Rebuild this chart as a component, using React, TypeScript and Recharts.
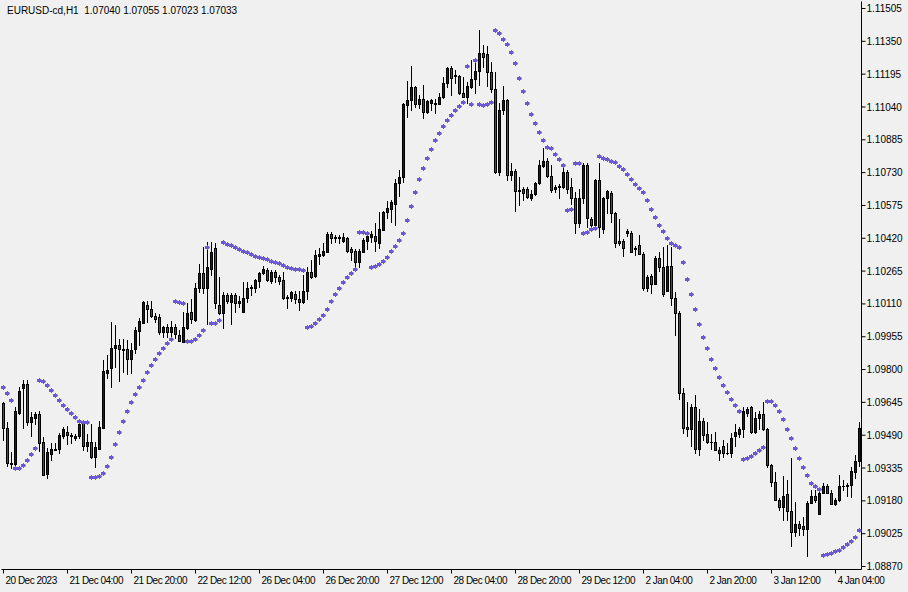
import React from 'react';
import { ComposedChart, Bar, Line, XAxis, YAxis } from 'recharts';

// EURUSD-cd H1 candles
const opens = [
  1.09640, 1.09522, 1.09352, 1.09356, 1.09597, 1.09711, 1.09734, 1.09550, 1.09569, 1.09592,
  1.09456, 1.09309, 1.09399, 1.09422, 1.09427, 1.09484, 1.09507, 1.09489, 1.09479, 1.09484,
  1.09541, 1.09437, 1.09460, 1.09385, 1.09427, 1.09526, 1.09786, 1.09805, 1.09904, 1.09918,
  1.09895, 1.09895, 1.09852, 1.09895, 1.09984, 1.10022, 1.10107, 1.10084, 1.10055, 1.10046,
  1.09975, 1.09999, 1.09975, 1.09999, 1.09961, 1.09932, 1.09994, 1.10074, 1.10032, 1.10187,
  1.10258, 1.10187, 1.10277, 1.10376, 1.10107, 1.10065, 1.10154, 1.10121, 1.10154, 1.10112,
  1.10074, 1.10136, 1.10187, 1.10183, 1.10216, 1.10254, 1.10272, 1.10216, 1.10263, 1.10235,
  1.10225, 1.10145, 1.10136, 1.10159, 1.10131, 1.10121, 1.10169, 1.10263, 1.10244, 1.10334,
  1.10343, 1.10357, 1.10442, 1.10419, 1.10424, 1.10409, 1.10419, 1.10367, 1.10362, 1.10310,
  1.10357, 1.10409, 1.10428, 1.10433, 1.10400, 1.10461, 1.10542, 1.10556, 1.10584, 1.10683,
  1.10707, 1.11047, 1.11075, 1.11132, 1.11056, 1.11080, 1.11014, 1.11061, 1.11056, 1.11056,
  1.11085, 1.11151, 1.11222, 1.11184, 1.11184, 1.11104, 1.11089, 1.11132, 1.11170, 1.11212,
  1.11297, 1.11288, 1.11203, 1.11127, 1.10731, 1.11028, 1.11071, 1.10721, 1.10740, 1.10641,
  1.10655, 1.10655, 1.10608, 1.10631, 1.10679, 1.10759, 1.10787, 1.10716, 1.10655, 1.10664,
  1.10660, 1.10735, 1.10660, 1.10608, 1.10490, 1.10608, 1.10764, 1.10513, 1.10485, 1.10697,
  1.10466, 1.10608, 1.10636, 1.10537, 1.10405, 1.10409, 1.10447, 1.10447, 1.10367, 1.10386,
  1.10348, 1.10187, 1.10244, 1.10206, 1.10329, 1.10282, 1.10173, 1.10287, 1.10140, 1.10069,
  1.09687, 1.09531, 1.09517, 1.09621, 1.09427, 1.09559, 1.09498, 1.09460, 1.09460, 1.09422,
  1.09441, 1.09408, 1.09404, 1.09484, 1.09498, 1.09517, 1.09597, 1.09621, 1.09503, 1.09569,
  1.09592, 1.09517, 1.09347, 1.09271, 1.09186, 1.09153, 1.09210, 1.09130, 1.09031, 1.09073,
  1.09059, 1.09049, 1.09172, 1.09201, 1.09120, 1.09219, 1.09252, 1.09215, 1.09167, 1.09182,
  1.09248, 1.09252, 1.09257, 1.09314, 1.09366,
];

const highs = [
  1.09644, 1.09550, 1.09408, 1.09621, 1.09715, 1.09748, 1.09748, 1.09597, 1.09597, 1.09602,
  1.09479, 1.09427, 1.09451, 1.09451, 1.09498, 1.09526, 1.09531, 1.09498, 1.09493, 1.09545,
  1.09550, 1.09493, 1.09541, 1.09456, 1.09555, 1.09843, 1.09866, 1.10022, 1.10008, 1.09942,
  1.09942, 1.09937, 1.09923, 1.09999, 1.10041, 1.10121, 1.10121, 1.10121, 1.10065, 1.10060,
  1.10003, 1.10013, 1.10027, 1.10013, 1.09984, 1.10069, 1.10112, 1.10131, 1.10206, 1.10296,
  1.10376, 1.10400, 1.10400, 1.10395, 1.10235, 1.10164, 1.10159, 1.10159, 1.10159, 1.10145,
  1.10211, 1.10211, 1.10197, 1.10225, 1.10258, 1.10287, 1.10277, 1.10268, 1.10268, 1.10244,
  1.10258, 1.10150, 1.10169, 1.10169, 1.10169, 1.10244, 1.10282, 1.10315, 1.10362, 1.10372,
  1.10395, 1.10447, 1.10447, 1.10433, 1.10433, 1.10442, 1.10424, 1.10376, 1.10367, 1.10367,
  1.10419, 1.10447, 1.10452, 1.10490, 1.10542, 1.10546, 1.10594, 1.10598, 1.10697, 1.10740,
  1.11056, 1.11160, 1.11231, 1.11137, 1.11094, 1.11141, 1.11071, 1.11075, 1.11075, 1.11104,
  1.11179, 1.11226, 1.11231, 1.11212, 1.11189, 1.11179, 1.11156, 1.11259, 1.11264, 1.11401,
  1.11330, 1.11326, 1.11250, 1.11203, 1.11056, 1.11137, 1.11075, 1.10773, 1.10745, 1.10707,
  1.10660, 1.10660, 1.10646, 1.10683, 1.10787, 1.10844, 1.10797, 1.10764, 1.10669, 1.10674,
  1.10754, 1.10740, 1.10702, 1.10636, 1.10650, 1.10773, 1.10773, 1.10518, 1.10697, 1.10773,
  1.10612, 1.10646, 1.10641, 1.10542, 1.10509, 1.10414, 1.10461, 1.10452, 1.10381, 1.10433,
  1.10353, 1.10244, 1.10249, 1.10334, 1.10353, 1.10376, 1.10386, 1.10376, 1.10164, 1.10074,
  1.09711, 1.09644, 1.09635, 1.09677, 1.09611, 1.09569, 1.09550, 1.09493, 1.09503, 1.09432,
  1.09465, 1.09451, 1.09498, 1.09541, 1.09526, 1.09621, 1.09621, 1.09626, 1.09597, 1.09602,
  1.09644, 1.09522, 1.09352, 1.09314, 1.09191, 1.09295, 1.09276, 1.09380, 1.09172, 1.09082,
  1.09101, 1.09177, 1.09229, 1.09229, 1.09224, 1.09262, 1.09257, 1.09229, 1.09191, 1.09300,
  1.09276, 1.09262, 1.09337, 1.09394, 1.09550,
];

const lows = [
  1.09465, 1.09342, 1.09333, 1.09347, 1.09588, 1.09522, 1.09536, 1.09484, 1.09541, 1.09413,
  1.09300, 1.09286, 1.09371, 1.09418, 1.09404, 1.09474, 1.09446, 1.09451, 1.09465, 1.09474,
  1.09418, 1.09413, 1.09380, 1.09337, 1.09422, 1.09522, 1.09758, 1.09715, 1.09810, 1.09744,
  1.09786, 1.09777, 1.09781, 1.09876, 1.09914, 1.10017, 1.10022, 1.10046, 1.10022, 1.09966,
  1.09951, 1.09951, 1.09951, 1.09947, 1.09932, 1.09928, 1.09989, 1.10017, 1.10027, 1.10164,
  1.10159, 1.10013, 1.10244, 1.10088, 1.10060, 1.09994, 1.10112, 1.10013, 1.10069, 1.10093,
  1.10069, 1.10117, 1.10150, 1.10164, 1.10187, 1.10249, 1.10216, 1.10206, 1.10211, 1.10202,
  1.10131, 1.10088, 1.10121, 1.10112, 1.10079, 1.10112, 1.10131, 1.10230, 1.10235, 1.10296,
  1.10334, 1.10353, 1.10395, 1.10400, 1.10395, 1.10400, 1.10353, 1.10315, 1.10282, 1.10282,
  1.10353, 1.10367, 1.10400, 1.10357, 1.10372, 1.10457, 1.10513, 1.10494, 1.10480, 1.10617,
  1.10683, 1.10990, 1.11023, 1.11037, 1.11033, 1.10986, 1.11009, 1.11023, 1.11009, 1.11052,
  1.11080, 1.11132, 1.11094, 1.11151, 1.11099, 1.11085, 1.11056, 1.11127, 1.11104, 1.11141,
  1.11226, 1.11137, 1.11108, 1.10726, 1.10716, 1.11004, 1.10693, 1.10693, 1.10546, 1.10575,
  1.10598, 1.10608, 1.10598, 1.10622, 1.10674, 1.10754, 1.10707, 1.10636, 1.10636, 1.10608,
  1.10655, 1.10631, 1.10579, 1.10442, 1.10471, 1.10584, 1.10471, 1.10471, 1.10457, 1.10424,
  1.10442, 1.10537, 1.10494, 1.10376, 1.10386, 1.10334, 1.10428, 1.10353, 1.10339, 1.10343,
  1.10173, 1.10169, 1.10159, 1.10202, 1.10263, 1.10145, 1.10169, 1.10102, 1.09961, 1.09659,
  1.09498, 1.09484, 1.09437, 1.09404, 1.09394, 1.09465, 1.09451, 1.09422, 1.09418, 1.09371,
  1.09385, 1.09399, 1.09385, 1.09437, 1.09479, 1.09479, 1.09578, 1.09498, 1.09498, 1.09517,
  1.09512, 1.09337, 1.09248, 1.09182, 1.09134, 1.09087, 1.09087, 1.08964, 1.09012, 1.09016,
  1.09016, 1.08917, 1.09167, 1.09172, 1.09116, 1.09215, 1.09215, 1.09163, 1.09158, 1.09177,
  1.09229, 1.09201, 1.09196, 1.09286, 1.09342,
];

const closes = [
  1.09522, 1.09361, 1.09361, 1.09602, 1.09701, 1.09734, 1.09550, 1.09574, 1.09592, 1.09451,
  1.09304, 1.09413, 1.09427, 1.09427, 1.09489, 1.09517, 1.09489, 1.09484, 1.09484, 1.09541,
  1.09437, 1.09460, 1.09385, 1.09432, 1.09531, 1.09791, 1.09800, 1.09904, 1.09914, 1.09895,
  1.09890, 1.09852, 1.09890, 1.09989, 1.10027, 1.10117, 1.10084, 1.10055, 1.10041, 1.09975,
  1.09999, 1.09975, 1.09999, 1.09966, 1.09937, 1.09999, 1.10069, 1.10041, 1.10187, 1.10254,
  1.10183, 1.10282, 1.10357, 1.10112, 1.10065, 1.10154, 1.10126, 1.10154, 1.10112, 1.10126,
  1.10136, 1.10187, 1.10192, 1.10221, 1.10254, 1.10277, 1.10221, 1.10263, 1.10235, 1.10216,
  1.10140, 1.10140, 1.10164, 1.10131, 1.10121, 1.10169, 1.10263, 1.10239, 1.10343, 1.10348,
  1.10362, 1.10442, 1.10419, 1.10424, 1.10419, 1.10424, 1.10362, 1.10353, 1.10306, 1.10362,
  1.10414, 1.10433, 1.10442, 1.10409, 1.10466, 1.10542, 1.10561, 1.10589, 1.10683, 1.10707,
  1.11052, 1.11075, 1.11132, 1.11056, 1.11080, 1.11014, 1.11066, 1.11071, 1.11061, 1.11085,
  1.11151, 1.11222, 1.11179, 1.11189, 1.11104, 1.11089, 1.11137, 1.11170, 1.11212, 1.11297,
  1.11278, 1.11203, 1.11127, 1.10731, 1.11028, 1.11071, 1.10721, 1.10740, 1.10641, 1.10646,
  1.10636, 1.10617, 1.10631, 1.10679, 1.10764, 1.10787, 1.10712, 1.10650, 1.10660, 1.10669,
  1.10735, 1.10655, 1.10608, 1.10490, 1.10608, 1.10768, 1.10518, 1.10485, 1.10693, 1.10471,
  1.10608, 1.10641, 1.10537, 1.10400, 1.10400, 1.10376, 1.10452, 1.10357, 1.10376, 1.10348,
  1.10183, 1.10239, 1.10206, 1.10329, 1.10282, 1.10159, 1.10287, 1.10140, 1.10065, 1.09687,
  1.09526, 1.09517, 1.09621, 1.09427, 1.09559, 1.09493, 1.09456, 1.09456, 1.09422, 1.09408,
  1.09408, 1.09404, 1.09479, 1.09507, 1.09517, 1.09602, 1.09616, 1.09503, 1.09569, 1.09592,
  1.09517, 1.09347, 1.09267, 1.09186, 1.09153, 1.09205, 1.09134, 1.09031, 1.09073, 1.09054,
  1.09049, 1.09172, 1.09205, 1.09182, 1.09219, 1.09248, 1.09219, 1.09167, 1.09186, 1.09252,
  1.09252, 1.09257, 1.09319, 1.09366, 1.09526,
];

// Parabolic SAR values
const sar = [
  1.09715, 1.09687, 1.09654, 1.09333, 1.09333, 1.09347, 1.09371, 1.09399, 1.09427, 1.09748,
  1.09744, 1.09725, 1.09701, 1.09677, 1.09654, 1.09630, 1.09611, 1.09592, 1.09574, 1.09555,
  1.09550, 1.09550, 1.09290, 1.09290, 1.09295, 1.09309, 1.09342, 1.09385, 1.09446, 1.09503,
  1.09555, 1.09602, 1.09644, 1.09682, 1.09715, 1.09748, 1.09786, 1.09819, 1.09847, 1.09876,
  1.09899, 1.09923, 1.09942, 1.10121, 1.10117, 1.10112, 1.09932, 1.09932, 1.09942, 1.09961,
  1.09984, 1.10376, 1.10017, 1.10017, 1.10032, 1.10400, 1.10391, 1.10386, 1.10376, 1.10367,
  1.10357, 1.10353, 1.10343, 1.10334, 1.10329, 1.10324, 1.10320, 1.10310, 1.10306, 1.10301,
  1.10291, 1.10282, 1.10277, 1.10272, 1.10272, 1.10268, 1.09999, 1.10003, 1.10017, 1.10036,
  1.10055, 1.10084, 1.10121, 1.10154, 1.10183, 1.10211, 1.10235, 1.10254, 1.10272, 1.10447,
  1.10447, 1.10442, 1.10282, 1.10287, 1.10296, 1.10310, 1.10329, 1.10357, 1.10381, 1.10409,
  1.10442, 1.10504, 1.10570, 1.10636, 1.10697, 1.10749, 1.10797, 1.10839, 1.10882, 1.10915,
  1.10948, 1.10976, 1.11000, 1.11023, 1.11042, 1.11061, 1.11231, 1.11052, 1.11259, 1.11052,
  1.11047, 1.11052, 1.11061, 1.11401, 1.11387, 1.11359, 1.11335, 1.11297, 1.11245, 1.11174,
  1.11113, 1.11056, 1.11004, 1.10962, 1.10919, 1.10882, 1.10849, 1.10844, 1.10816, 1.10792,
  1.10764, 1.10551, 1.10556, 1.10773, 1.10773, 1.10442, 1.10447, 1.10461, 1.10466, 1.10806,
  1.10797, 1.10792, 1.10782, 1.10778, 1.10759, 1.10745, 1.10721, 1.10697, 1.10674, 1.10655,
  1.10636, 1.10598, 1.10556, 1.10518, 1.10480, 1.10452, 1.10419, 1.10395, 1.10386, 1.10376,
  1.10306, 1.10225, 1.10154, 1.10084, 1.10013, 1.09951, 1.09899, 1.09847, 1.09805, 1.09762,
  1.09725, 1.09692, 1.09659, 1.09630, 1.09602, 1.09375, 1.09380, 1.09389, 1.09404, 1.09418,
  1.09432, 1.09649, 1.09649, 1.09630, 1.09602, 1.09564, 1.09517, 1.09474, 1.09427, 1.09380,
  1.09337, 1.09300, 1.09262, 1.09248, 1.09234, 1.08922, 1.08927, 1.08931, 1.08941, 1.08946,
  1.08960, 1.08974, 1.08988, 1.09007, 1.09040,
];

const xTickBars = [0, 16, 32, 48, 64, 80, 96, 112, 128, 144, 160, 176, 192, 208];
const xTickLabels = [
  '20 Dec 2023', '21 Dec 04:00', '21 Dec 20:00', '22 Dec 12:00', '26 Dec 04:00',
  '26 Dec 20:00', '27 Dec 12:00', '28 Dec 04:00', '28 Dec 20:00', '29 Dec 12:00',
  '2 Jan 04:00', '2 Jan 20:00', '3 Jan 12:00', '4 Jan 04:00',
];
const yTicks = [
  1.11505, 1.1135, 1.11195, 1.1104, 1.10885, 1.1073, 1.10575, 1.1042, 1.10265,
  1.1011, 1.09955, 1.098, 1.09645, 1.0949, 1.09335, 1.0918, 1.09025, 1.0887,
];
const Y_MIN = 1.0885583;
const Y_MAX = 1.1153806;

const title = 'EURUSD-cd,H1  1.07040 1.07055 1.07023 1.07033';

const data = opens.map((o, i) => ({
  i,
  open: o,
  high: highs[i],
  low: lows[i],
  close: closes[i],
  sar: sar[i],
}));

const FONT = '"Liberation Sans", Arial, sans-serif';
const UP = '#0000ff';
const DOWN = '#ff0000';
const SAR_COLOR = '#6a5acd';

function Candle(props: any) {
  const { x, y, width, height, payload } = props;
  if (x == null || y == null || !payload) return <g />;
  const top = Math.min(y, y + height);
  const bot = Math.max(y, y + height);
  const span = payload.high - payload.low;
  const toPx = (v: number) => (span > 0 ? top + ((payload.high - v) / span) * (bot - top) : top);
  const cx = Math.round(x + width / 2 - 0.5) + 0.5;
  const o = toPx(payload.open);
  const c = toPx(payload.close);
  const bTop = Math.round(Math.min(o, c));
  const bBot = Math.round(Math.max(o, c));
  const wTop = Math.floor(top);
  const wBot = Math.floor(bot) + 1;
  const fill = payload.close >= payload.open ? UP : DOWN;
  return (
    <g>
      <line x1={cx} x2={cx} y1={wTop} y2={wBot} stroke="#000" strokeWidth={1} />
      {bBot - bTop < 1 ? (
        <line x1={cx - 1.5} x2={cx + 1.5} y1={bTop + 0.5} y2={bTop + 0.5} stroke="#000" strokeWidth={1} />
      ) : (
        <rect x={cx - 1} y={bTop + 0.5} width={2} height={bBot - bTop} fill={fill} stroke="#000" strokeWidth={1} />
      )}
    </g>
  );
}

function SarDot(props: any) {
  const { cx, cy, index } = props;
  if (cx == null || cy == null) return <g key={`sar-${index}`} />;
  const px = Math.round(cx - 0.5);
  const py = Math.round(cy - 0.5);
  const d = `M${px - 2},${py - 1} H${px} V${py - 2} H${px + 1} V${py - 1} H${px + 2} L${px + 3},${py + 0.5} L${px + 2},${py + 2} H${px + 1} V${py + 3} H${px} V${py + 2} H${px - 2} Z`;
  return <path key={`sar-${index}`} d={d} fill={SAR_COLOR} stroke="none" />;
}

function XTick(props: any) {
  const { x, y, payload } = props;
  const k = xTickBars.indexOf(payload.value);
  if (k < 0) return <g />;
  return (
    <text x={x + 2} y={y + 8} fontSize={10} fontFamily={FONT} fill="#000" textAnchor="start" letterSpacing={-0.5}>
      {xTickLabels[k]}
    </text>
  );
}

export default function App() {
  return (
    <div style={{ position: 'absolute', left: 0, top: 0, width: 908, height: 592, background: '#f0f0f0', overflow: 'hidden' }}>
      <ComposedChart
        width={908}
        height={592}
        data={data}
        margin={{ top: 1.5, left: 1.5, right: 0, bottom: 0 }}
      >
        <XAxis
          xAxisId="main"
          dataKey="i"
          type="category"
          ticks={xTickBars}
          interval={0}
          tick={<XTick />}
          tickSize={4}
          tickMargin={2}
          height={22.5}
          axisLine={{ stroke: '#000' }}
          tickLine={{ stroke: '#000' }}
        />
        <XAxis
          xAxisId="top"
          dataKey="i"
          type="category"
          orientation="top"
          height={0}
          tick={false}
          tickLine={false}
          axisLine={{ stroke: '#000' }}
        />
        <YAxis
          yAxisId="price"
          orientation="right"
          type="number"
          domain={[Y_MIN, Y_MAX]}
          allowDataOverflow
          ticks={yTicks}
          interval={0}
          tickFormatter={(v: number) => v.toFixed(5)}
          width={46.5}
          tickSize={4}
          tickMargin={1}
          tick={{ fontSize: 10, fontFamily: FONT, fill: '#000' }}
          axisLine={{ stroke: '#000' }}
          tickLine={{ stroke: '#000' }}
        />
        <YAxis
          yAxisId="frame"
          orientation="left"
          type="number"
          domain={[Y_MIN, Y_MAX]}
          allowDataOverflow
          width={0}
          tick={false}
          tickLine={false}
          axisLine={{ stroke: '#000' }}
        />
        <Bar
          xAxisId="main"
          yAxisId="price"
          dataKey={(d: any) => [d.low, d.high]}
          barSize={4}
          shape={Candle}
          isAnimationActive={false}
        />
        <Line
          xAxisId="main"
          yAxisId="price"
          dataKey="sar"
          stroke="none"
          dot={SarDot}
          activeDot={false}
          isAnimationActive={false}
        />
      </ComposedChart>
      <div
        style={{
          position: 'absolute',
          left: 7,
          top: 5,
          fontSize: 10,
          lineHeight: '11px',
          fontFamily: FONT,
          color: '#000',
          whiteSpace: 'pre',
        }}
      >
        {title}
      </div>
    </div>
  );
}
